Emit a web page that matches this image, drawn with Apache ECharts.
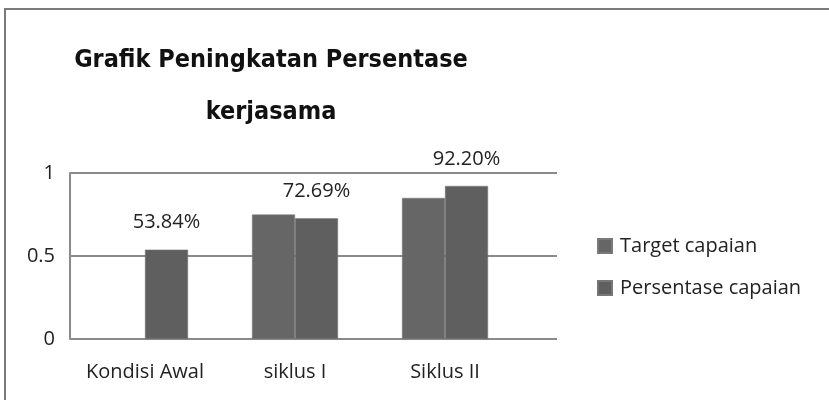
<!DOCTYPE html>
<html>
<head>
<meta charset="utf-8">
<script src="https://cdn.jsdelivr.net/npm/echarts@6/dist/echarts.min.js"></script>
<style>
  html, body { margin: 0; padding: 0; background: #fff; }
  #chart { width: 829px; height: 400px; }
</style>
</head>
<body>
<div id="chart"></div>
<script>
var categories = ['Kondisi Awal', 'siklus I', 'Siklus II'];
var target_values = [null, 0.75, 0.85];
var persen_values = [0.5384, 0.7269, 0.922];
var y_ticks = [0, 0.5, 1];

var chart = echarts.init(document.getElementById('chart'));
var txt = '"Open Sans", sans-serif';

var option = {
    animation: false,
    backgroundColor: '#fff',
    title: {
        text: 'Grafik Peningkatan Persentase\nkerjasama',
        left: 266,
        top: 29,
        textAlign: 'center',
        textStyle: {
            fontFamily: '"DejaVu Sans Condensed", "Liberation Sans Narrow", "Liberation Sans", sans-serif',
            fontWeight: 'bold',
            fontSize: 25,
            lineHeight: 52,
            color: '#111'
        }
    },
    legend: {
        orient: 'vertical',
        left: 592,
        top: 231,
        itemWidth: 14,
        itemHeight: 14,
        itemGap: 22,
        icon: 'rect',
        textStyle: { fontFamily: txt, fontSize: 20, color: '#222', padding: [0, 0, 0, 3] },
        data: ['Target capaian', 'Persentase capaian']
    },
    grid: [
        // frame for the gridlines (extends further right than the bars)
        { left: 70, top: 173, width: 487, height: 166 },
        // bars
        { left: 70, top: 173, width: 450, height: 166 }
    ],
    xAxis: [
        { gridIndex: 0, type: 'category', data: categories, show: false },
        {
            gridIndex: 1,
            type: 'category',
            data: categories,
            axisLine: { show: false },
            axisTick: { show: false },
            axisLabel: { fontFamily: txt, fontSize: 20, color: '#222', margin: 23, interval: 0 }
        }
    ],
    yAxis: [
        {
            gridIndex: 0,
            type: 'value',
            min: 0, max: 1, interval: 0.5,
            axisLine: { show: true, lineStyle: { color: '#8a8a8a', width: 2 } },
            axisTick: { show: false },
            splitLine: { show: true, lineStyle: { color: '#8a8a8a', width: 2 } },
            axisLabel: {
                fontFamily: txt, fontSize: 20, color: '#222', margin: 15,
                formatter: function (v) { return y_ticks.indexOf(v) >= 0 ? String(v) : ''; }
            }
        },
        { gridIndex: 1, type: 'value', min: 0, max: 1, interval: 0.5, show: false }
    ],
    series: [
        {
            name: 'Target capaian',
            type: 'bar',
            xAxisIndex: 1, yAxisIndex: 1,
            data: target_values,
            barWidth: 43,
            barGap: '0%',
            itemStyle: { color: '#666666', borderColor: '#7a7a7a', borderWidth: 0.5 }
        },
        {
            name: 'Persentase capaian',
            type: 'bar',
            xAxisIndex: 1, yAxisIndex: 1,
            data: persen_values,
            barWidth: 43,
            barGap: '0%',
            z: 3,
            itemStyle: { color: '#5f5f5f', borderColor: '#777777', borderWidth: 0.5 },
            label: {
                show: true,
                position: 'top',
                distance: 17,
                fontFamily: txt,
                fontSize: 20,
                color: '#222',
                formatter: function (p) { return (p.value * 100).toFixed(2) + '%'; }
            }
        }
    ],
    graphic: [
        {
            type: 'polyline',
            shape: { points: [[5, 400], [5, 9], [829, 9]] },
            style: { fill: null, stroke: '#7a7a7a', lineWidth: 2 },
            silent: true
        }
    ]
};

chart.setOption(option);
</script>
</body>
</html>
